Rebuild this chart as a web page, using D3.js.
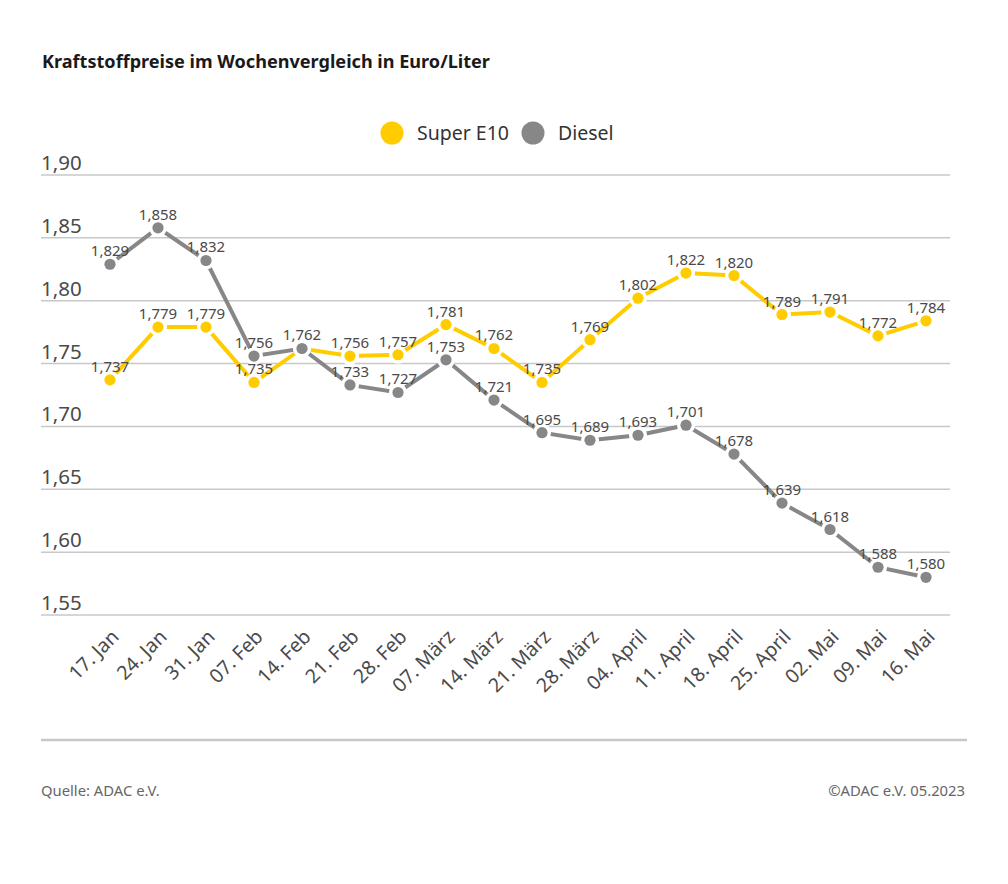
<!DOCTYPE html>
<html>
<head>
<meta charset="utf-8">
<script src="https://cdn.jsdelivr.net/npm/d3@7"></script>
<style>
  html, body { margin: 0; padding: 0; background: #fff; }
  svg { display: block; }
  text { font-family: "Noto Sans", "Open Sans", sans-serif; }
</style>
</head>
<body>
<svg id="chart"></svg>
<script>
const weeks = ['17. Jan', '24. Jan', '31. Jan', '07. Feb', '14. Feb', '21. Feb', '28. Feb', '07. März', '14. März', '21. März', '28. März', '04. April', '11. April', '18. April', '25. April', '02. Mai', '09. Mai', '16. Mai']
const superE10 = [1.737, 1.779, 1.779, 1.735, 1.762, 1.756, 1.757, 1.781, 1.762, 1.735, 1.769, 1.802, 1.822, 1.820, 1.789, 1.791, 1.772, 1.784]
const diesel = [1.829, 1.858, 1.832, 1.756, 1.762, 1.733, 1.727, 1.753, 1.721, 1.695, 1.689, 1.693, 1.701, 1.678, 1.639, 1.618, 1.588, 1.580]
const yTicks = [1.55, 1.60, 1.65, 1.70, 1.75, 1.80, 1.85, 1.90]
const seriesNames = ['Super E10', 'Diesel']

const width = 1008
const height = 884
const colors = { 'Super E10': '#ffcc00', 'Diesel': '#878787' }
const comma = d3.format('.3f')

const svg = d3.select('#chart').attr('width', width).attr('height', height)

const xScale = d3.scaleBand().domain(weeks).range([86, 950])
const yScale = d3.scaleLinear().domain([1.55, 1.90]).range([615, 175])
const xPos = d => xScale(d) + xScale.bandwidth() / 2

// titel
svg.append('text')
  .attr('x', 42).attr('y', 68)
  .attr('font-size', 18.1).attr('font-weight', 700).attr('fill', '#1a1a1a')
  .text('Kraftstoffpreise im Wochenvergleich in Euro/Liter')

// legende
const legendX = [392, 533]
seriesNames.forEach((name, i) => {
  svg.append('circle')
    .attr('cx', legendX[i]).attr('cy', 133).attr('r', 11.5)
    .attr('fill', colors[name])
  svg.append('text')
    .attr('x', legendX[i] + 25).attr('y', 140)
    .attr('font-size', 19.5).attr('fill', '#333')
    .text(name)
})

// y achse
const yAxis = svg.append('g').selectAll('g').data(yTicks).enter().append('g')
yAxis.append('line')
  .attr('x1', 41).attr('x2', 950)
  .attr('y1', d => yScale(d)).attr('y2', d => yScale(d))
  .attr('stroke', '#c8c8c8').attr('stroke-width', 1.5)
yAxis.append('text')
  .attr('x', 41).attr('y', d => yScale(d) - 5)
  .attr('font-size', 20.5).attr('fill', '#4a4a4a')
  .text(d => d.toFixed(2).replace('.', ','))

// x achse
svg.append('g').selectAll('text').data(weeks).enter().append('text')
  .attr('text-anchor', 'end')
  .attr('transform', d => `translate(${xPos(d) + 10}, 638) rotate(-45)`)
  .attr('font-size', 19.5).attr('fill', '#4a4a4a')
  .text(d => d)

// linien
const line = d3.line().x((d, i) => xPos(weeks[i])).y(d => yScale(d))
const series = [
  { name: 'Super E10', values: superE10 },
  { name: 'Diesel', values: diesel }
]

series.forEach(s => {
  svg.append('path')
    .attr('d', line(s.values))
    .attr('fill', 'none')
    .attr('stroke', colors[s.name]).attr('stroke-width', 4)
})

// weisser rand zuerst, damit die linien vor dem punkt aufhoeren
series.forEach(s => {
  svg.append('g').selectAll('circle').data(s.values).enter().append('circle')
    .attr('cx', (d, i) => xPos(weeks[i]))
    .attr('cy', d => yScale(d))
    .attr('r', 9)
    .attr('fill', '#fff')
  svg.append('g').selectAll('circle').data(s.values).enter().append('circle')
    .attr('cx', (d, i) => xPos(weeks[i]))
    .attr('cy', d => yScale(d))
    .attr('r', 5.6)
    .attr('fill', colors[s.name])
})

// 14. Feb ist bei beiden gleich, Wert nur einmal schreiben
series.forEach(s => {
  const labels = s.values
    .map((v, i) => ({ v, week: weeks[i] }))
    .filter((d, i) => s.name === 'Super E10' || d.v !== superE10[i])
  svg.append('g').selectAll('text').data(labels).enter().append('text')
    .attr('x', d => xPos(d.week))
    .attr('y', d => yScale(d.v) - 8)
    .attr('text-anchor', 'middle')
    .attr('font-size', 15).attr('fill', '#4a4a4a')
    .text(d => comma(d.v).replace('.', ','))
})

// fuss
svg.append('line')
  .attr('x1', 41).attr('x2', 967).attr('y1', 740).attr('y2', 740)
  .attr('stroke', '#c8c8c8').attr('stroke-width', 2.5)

svg.append('text')
  .attr('x', 41).attr('y', 796)
  .attr('font-size', 14.8).attr('fill', '#666')
  .text('Quelle: ADAC e.V.')

svg.append('text')
  .attr('x', 965).attr('y', 796)
  .attr('text-anchor', 'end')
  .attr('font-size', 14.8).attr('fill', '#666')
  .text('©ADAC e.V. 05.2023')
</script>
</body>
</html>
